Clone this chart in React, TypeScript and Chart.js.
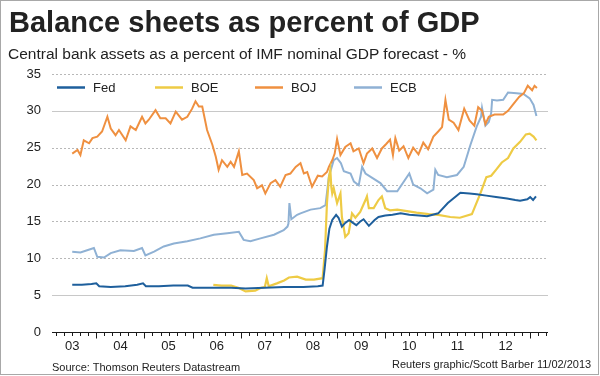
import React, { useEffect, useRef } from 'react';
import { Chart, registerables } from 'chart.js';

Chart.register(...registerables);

const FONT = '"Liberation Sans", Arial, Helvetica, sans-serif';

// ---------- data (decimal year, percent of GDP) ----------
const FED: [number, number][] = [
  [2003.50, 6.4], [2003.70, 6.4], [2003.90, 6.5], [2004.00, 6.6], [2004.06, 6.2], [2004.30, 6.1],
  [2004.60, 6.2], [2004.85, 6.4], [2004.97, 6.6], [2005.03, 6.2], [2005.30, 6.2], [2005.60, 6.3],
  [2005.90, 6.3], [2006.00, 6.0], [2006.40, 6.0], [2006.80, 6.0], [2007.10, 5.9], [2007.50, 6.0],
  [2007.90, 6.1], [2008.30, 6.1], [2008.60, 6.2], [2008.70, 6.3], [2008.74, 8.5], [2008.79, 11.6],
  [2008.84, 14.0], [2008.90, 15.2], [2008.98, 15.9], [2009.03, 15.5], [2009.10, 14.3], [2009.17, 14.8],
  [2009.25, 15.2], [2009.33, 14.8], [2009.40, 14.5], [2009.48, 15.0], [2009.55, 15.3], [2009.66, 14.4],
  [2009.78, 15.2], [2009.86, 15.6], [2010.00, 15.8], [2010.15, 15.9], [2010.32, 16.1], [2010.50, 15.9],
  [2010.70, 15.8], [2010.87, 15.7], [2011.10, 16.1], [2011.30, 17.5], [2011.56, 18.9], [2011.75, 18.8],
  [2011.90, 18.7], [2012.10, 18.5], [2012.30, 18.3], [2012.53, 18.1], [2012.70, 17.9], [2012.80, 17.8],
  [2012.95, 18.0], [2013.01, 18.3], [2013.07, 17.9], [2013.13, 18.4],
];

const BOE: [number, number][] = [
  [2006.43, 6.4], [2006.60, 6.3], [2006.80, 6.3], [2006.95, 6.0], [2007.10, 5.5], [2007.30, 5.6],
  [2007.42, 6.0], [2007.50, 6.1], [2007.54, 7.3], [2007.58, 6.2], [2007.75, 6.6], [2007.90, 7.0],
  [2008.00, 7.4], [2008.17, 7.5], [2008.35, 7.1], [2008.52, 7.1], [2008.70, 7.3], [2008.75, 11.1],
  [2008.79, 17.5], [2008.83, 20.9], [2008.86, 22.0], [2008.88, 19.7], [2008.90, 18.8], [2008.93, 19.5],
  [2009.00, 17.5], [2009.07, 18.8], [2009.10, 15.6], [2009.17, 12.9], [2009.24, 13.4], [2009.31, 16.1],
  [2009.38, 15.5], [2009.48, 16.3], [2009.59, 17.9], [2009.62, 18.4], [2009.66, 16.8], [2009.76, 16.8],
  [2009.86, 17.9], [2009.93, 18.4], [2010.00, 16.8], [2010.10, 16.5], [2010.25, 16.6], [2010.45, 16.4],
  [2010.65, 16.2], [2010.90, 16.0], [2011.10, 15.9], [2011.35, 15.6], [2011.55, 15.5], [2011.80, 16.0],
  [2011.97, 18.7], [2012.10, 21.0], [2012.20, 21.2], [2012.30, 22.0], [2012.42, 23.0], [2012.55, 23.6],
  [2012.66, 24.9], [2012.80, 25.8], [2012.92, 26.8], [2013.00, 26.9], [2013.08, 26.5], [2013.14, 26.0],
];

const BOJ: [number, number][] = [
  [2003.50, 24.2], [2003.61, 24.7], [2003.67, 24.0], [2003.74, 26.0], [2003.85, 25.6], [2003.92, 26.3],
  [2004.02, 26.5], [2004.12, 27.2], [2004.23, 29.2], [2004.30, 27.6], [2004.40, 26.7], [2004.47, 27.4],
  [2004.61, 26.0], [2004.71, 27.9], [2004.82, 27.4], [2004.95, 29.2], [2005.02, 28.3], [2005.09, 28.8],
  [2005.23, 30.1], [2005.33, 29.0], [2005.44, 29.0], [2005.54, 28.3], [2005.65, 29.9], [2005.78, 28.8],
  [2005.89, 29.2], [2005.99, 30.3], [2006.06, 31.3], [2006.13, 30.6], [2006.20, 30.6], [2006.30, 27.4],
  [2006.41, 25.4], [2006.48, 23.8], [2006.54, 22.0], [2006.61, 23.3], [2006.72, 22.4], [2006.79, 23.1],
  [2006.86, 22.4], [2006.96, 24.5], [2007.03, 21.3], [2007.13, 21.5], [2007.27, 20.6], [2007.34, 19.5],
  [2007.44, 19.9], [2007.51, 18.8], [2007.62, 20.2], [2007.72, 20.6], [2007.82, 19.7], [2007.93, 21.3],
  [2008.03, 21.5], [2008.14, 22.4], [2008.24, 22.9], [2008.31, 21.5], [2008.38, 21.7], [2008.48, 19.7],
  [2008.60, 21.2], [2008.69, 21.1], [2008.79, 21.7], [2008.83, 22.4], [2008.90, 23.3], [2008.95, 24.2],
  [2009.00, 26.2], [2009.07, 24.0], [2009.17, 25.1], [2009.28, 25.6], [2009.34, 24.5], [2009.45, 24.9],
  [2009.55, 22.9], [2009.62, 24.2], [2009.73, 24.9], [2009.83, 23.6], [2009.93, 24.9], [2010.02, 25.5],
  [2010.10, 26.1], [2010.16, 24.0], [2010.21, 26.3], [2010.29, 24.6], [2010.38, 25.2], [2010.48, 23.6],
  [2010.58, 25.0], [2010.69, 24.1], [2010.79, 25.7], [2010.89, 24.8], [2011.00, 26.5], [2011.10, 27.2],
  [2011.18, 27.8], [2011.25, 31.5], [2011.32, 28.8], [2011.42, 28.4], [2011.52, 27.4], [2011.64, 30.3],
  [2011.75, 28.7], [2011.85, 28.0], [2011.93, 30.5], [2012.01, 30.0], [2012.08, 28.2], [2012.15, 29.2],
  [2012.27, 29.5], [2012.45, 29.5], [2012.55, 30.0], [2012.66, 30.9], [2012.78, 31.9], [2012.88, 32.4],
  [2012.96, 33.4], [2013.05, 32.8], [2013.10, 33.4], [2013.15, 33.1],
];

const ECB: [number, number][] = [
  [2003.50, 10.9], [2003.67, 10.8], [2003.81, 11.1], [2003.95, 11.4], [2004.02, 10.2], [2004.16, 10.1],
  [2004.30, 10.7], [2004.50, 11.1], [2004.78, 11.0], [2004.95, 11.4], [2005.02, 10.4], [2005.20, 10.9],
  [2005.40, 11.6], [2005.61, 12.0], [2005.89, 12.3], [2006.16, 12.7], [2006.44, 13.2], [2006.72, 13.4],
  [2006.96, 13.6], [2007.06, 12.5], [2007.20, 12.3], [2007.41, 12.7], [2007.69, 13.2], [2007.89, 13.8],
  [2007.97, 14.3], [2007.99, 14.7], [2008.01, 17.5], [2008.05, 15.3], [2008.17, 15.9], [2008.24, 16.1],
  [2008.45, 16.6], [2008.65, 16.8], [2008.76, 17.2], [2008.83, 21.1], [2008.93, 23.3], [2009.00, 23.6],
  [2009.08, 22.9], [2009.14, 21.8], [2009.28, 21.5], [2009.35, 20.4], [2009.45, 19.9], [2009.52, 22.4],
  [2009.59, 21.5], [2009.73, 20.9], [2009.90, 20.2], [2010.04, 19.1], [2010.25, 19.1], [2010.50, 21.5],
  [2010.58, 20.0], [2010.73, 19.5], [2010.87, 18.8], [2011.00, 19.3], [2011.04, 22.0], [2011.10, 21.3],
  [2011.28, 21.0], [2011.49, 21.3], [2011.63, 22.4], [2011.77, 25.4], [2011.90, 27.9], [2011.99, 29.2],
  [2012.01, 30.4], [2012.08, 28.0], [2012.15, 28.5], [2012.20, 29.7], [2012.22, 31.5], [2012.32, 31.4],
  [2012.45, 31.5], [2012.55, 32.5], [2012.73, 32.4], [2012.87, 32.3], [2013.00, 31.7], [2013.08, 30.8],
  [2013.14, 29.3],
];

const SERIES_NAMES = ['Fed', 'BOE', 'BOJ', 'ECB'];
const Y_TICKS = [0, 5, 10, 15, 20, 25, 30, 35];
const SOLID_GRID = [5, 30];
const YEAR_LABELS = ['03', '04', '05', '06', '07', '08', '09', '10', '11', '12'];
const FIRST_YEAR = 2003;
const X_MIN = 2003.08;
const X_MAX = 2013.38;

// ---------- styles ----------
const COLORS = ['#1e5f9c', '#eecb45', '#ef9040', '#8fb1d4'];
const WIDTHS = [2, 2.2, 2, 2];
const LEGEND_X = [57, 155, 255, 354];
const LEGEND_Y = 87;

const decorPlugin = {
  id: 'decor',
  beforeDatasetsDraw(chart: any) {
    const { ctx, chartArea, scales } = chart;
    const y = scales.y;
    ctx.save();
    ctx.lineWidth = 1;
    Y_TICKS.forEach((v) => {
      if (v === 0) return;
      const py = Math.round(y.getPixelForValue(v)) + 0.5;
      const solid = SOLID_GRID.includes(v);
      ctx.setLineDash(solid ? [] : [2, 2]);
      ctx.strokeStyle = solid ? '#c8c8c8' : '#b8b8b8';
      ctx.beginPath();
      ctx.moveTo(chartArea.left, py);
      ctx.lineTo(chartArea.right, py);
      ctx.stroke();
    });
    ctx.restore();
  },
  afterDatasetsDraw(chart: any) {
    const { ctx, chartArea, scales } = chart;
    const x = scales.x;
    const y = scales.y;
    ctx.save();
    const py0 = Math.round(y.getPixelForValue(0)) + 0.5;
    ctx.strokeStyle = '#1a1a1a';
    ctx.lineWidth = 1;
    ctx.beginPath();
    ctx.moveTo(chartArea.left, py0);
    ctx.lineTo(chartArea.right, py0);
    ctx.stroke();
    x.ticks.forEach((t: any) => {
      const v = t.value;
      const major = Math.abs(v - Math.round(v)) < 1e-6;
      const px = Math.round(x.getPixelForValue(v)) + 0.5;
      ctx.beginPath();
      ctx.moveTo(px, py0);
      ctx.lineTo(px, py0 + (major ? 6 : 3.5));
      ctx.stroke();
    });
    // legend
    chart.data.datasets.forEach((ds: any, i: number) => {
      const lx = LEGEND_X[i];
      ctx.strokeStyle = ds.borderColor;
      ctx.lineWidth = 2.5;
      ctx.beginPath();
      ctx.moveTo(lx, LEGEND_Y + 0.5);
      ctx.lineTo(lx + 28, LEGEND_Y + 0.5);
      ctx.stroke();
      ctx.fillStyle = '#222';
      ctx.font = `13px ${FONT}`;
      ctx.textBaseline = 'middle';
      ctx.textAlign = 'left';
      ctx.fillText(ds.label, lx + 36, LEGEND_Y + 1);
    });
    ctx.restore();
  },
};

export default function App() {
  const canvasRef = useRef<HTMLCanvasElement | null>(null);

  useEffect(() => {
    document.body.style.margin = '0';
    const canvas = canvasRef.current;
    if (!canvas) return;
    const allSeries = [FED, BOE, BOJ, ECB];
    const xTicks: number[] = [];
    for (let yr = FIRST_YEAR; yr <= FIRST_YEAR + YEAR_LABELS.length; yr++) {
      for (let k = 0; k < 6; k++) {
        const v = yr + k / 6;
        if (v >= X_MIN && v <= X_MAX) xTicks.push(v);
      }
    }
    const chart = new Chart(canvas, {
      type: 'line',
      data: {
        datasets: allSeries.map((s, i) => ({
          label: SERIES_NAMES[i],
          data: s.map(([x, y]) => ({ x, y })),
          borderColor: COLORS[i],
          backgroundColor: COLORS[i],
          borderWidth: WIDTHS[i],
          pointRadius: 0,
          tension: 0,
          fill: false,
        })),
      },
      options: {
        animation: false,
        responsive: false,
        maintainAspectRatio: false,
        layout: { padding: { left: 0, right: 52, top: 74, bottom: 20 } },
        plugins: { legend: { display: false }, tooltip: { enabled: false }, title: { display: false } },
        scales: {
          x: {
            type: 'linear',
            min: X_MIN,
            max: X_MAX,
            afterBuildTicks: (scale: any) => {
              scale.ticks = xTicks.map((v) => ({ value: v }));
            },
            afterFit: (scale: any) => {
              scale.height = 24;
            },
            grid: { display: false, drawTicks: false },
            border: { display: false },
            ticks: {
              autoSkip: false,
              maxRotation: 0,
              minRotation: 0,
              padding: 7,
              color: '#222',
              font: { family: FONT, size: 13 },
              callback: (value: any) => {
                const v = Number(value);
                const yr = Math.floor(v + 1e-6);
                if (Math.abs(v - yr - 0.5) < 1e-4) return YEAR_LABELS[yr - FIRST_YEAR] ?? '';
                return '';
              },
            },
          },
          y: {
            min: 0,
            max: 35,
            afterBuildTicks: (scale: any) => {
              scale.ticks = Y_TICKS.map((v) => ({ value: v }));
            },
            afterFit: (scale: any) => {
              scale.width = 52;
            },
            grid: { display: false, drawTicks: false },
            border: { display: false },
            ticks: {
              padding: 11,
              color: '#222',
              font: { family: FONT, size: 13 },
            },
          },
        },
      },
      plugins: [decorPlugin],
    });
    return () => chart.destroy();
  }, []);

  const textBase: React.CSSProperties = {
    position: 'absolute',
    fontFamily: FONT,
    color: '#222',
    whiteSpace: 'nowrap',
    lineHeight: 1,
    margin: 0,
  };

  return (
    <div
      style={{
        position: 'fixed',
        left: 0,
        top: 0,
        width: 600,
        height: 376,
        background: '#fff',
        overflow: 'hidden',
      }}
    >
      <canvas ref={canvasRef} width={600} height={376} style={{ position: 'absolute', left: 0, top: 0 }} />
      <div style={{ ...textBase, left: 9, top: 8, fontSize: 29, fontWeight: 'bold' }}>
        Balance sheets as percent of GDP
      </div>
      <div style={{ ...textBase, left: 8, top: 46, fontSize: 15.5 }}>
        Central bank assets as a percent of IMF nominal GDP forecast - %
      </div>
      <div style={{ ...textBase, left: 52, top: 362, fontSize: 11 }}>
        Source: Thomson Reuters Datastream
      </div>
      <div style={{ ...textBase, left: 392, top: 359, fontSize: 11 }}>
        Reuters graphic/Scott Barber 11/02/2013
      </div>
      <div
        style={{
          position: 'absolute',
          left: 0,
          top: 0,
          width: 599,
          height: 375,
          boxSizing: 'border-box',
          border: '1px solid #a8a8a8',
          pointerEvents: 'none',
        }}
      />
    </div>
  );
}
